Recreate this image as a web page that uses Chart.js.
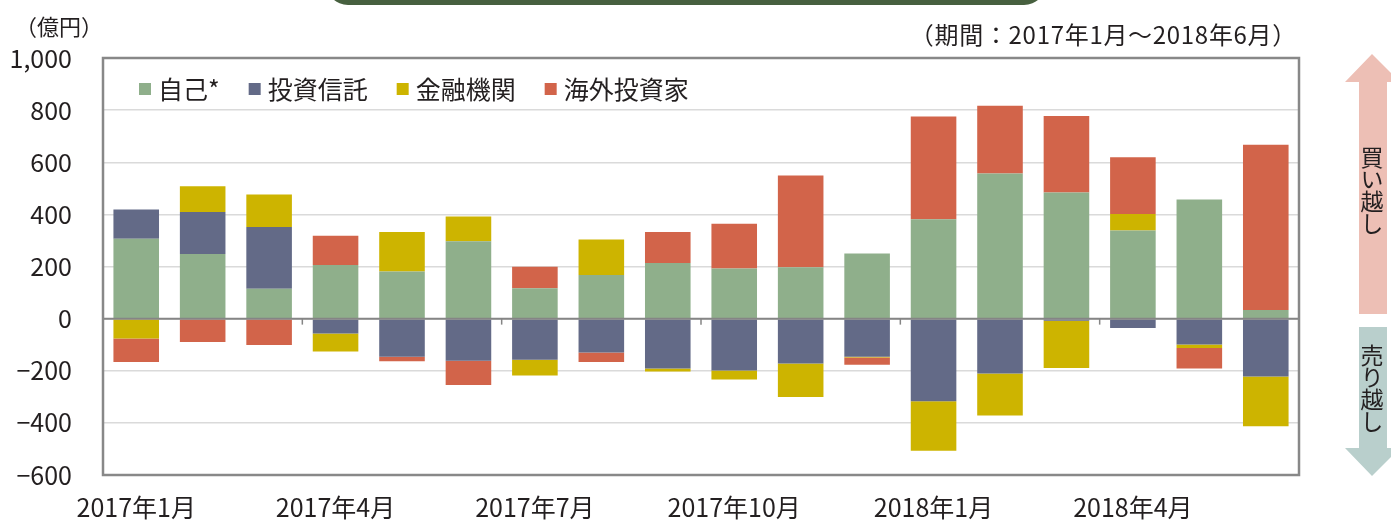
<!DOCTYPE html>
<html><head><meta charset="utf-8">
<script src="https://cdn.jsdelivr.net/npm/chart.js@4/dist/chart.umd.min.js"></script>
<style>
html,body{margin:0;padding:0;background:#fff;}
#wrap{position:relative;width:1391px;height:521px;overflow:hidden;font-family:"Noto Sans CJK JP","Noto Sans",sans-serif;color:#231f20;}
#c{position:absolute;left:0;top:0;}
.banner{position:absolute;left:326px;top:-20px;width:720px;height:25px;background:#47603f;border-radius:0 0 22px 22px;}
.unit{position:absolute;left:15px;top:14px;font-size:22px;line-height:1;}
.period{position:absolute;right:94px;top:22px;font-size:24px;line-height:1;letter-spacing:0.7px;}
.vt{position:absolute;writing-mode:vertical-rl;font-size:23px;line-height:1;left:1360px;letter-spacing:-1px;}
svg{position:absolute;left:0;top:0;}
</style></head>
<body><div id="wrap">
<canvas id="c" width="1391" height="521"></canvas>
<div class="banner"></div>
<div class="unit">（億円）</div>
<div class="period">（期間：2017年1月～2018年6月）</div>
<svg width="1391" height="521">
<polygon points="1372,54 1400,82 1387,82 1387,314 1359,314 1359,82 1345,82" fill="#edbfb5"/>
<polygon points="1359,327 1387,327 1387,448 1400,448 1372,476 1345,448 1359,448" fill="#b9cfcc"/>
</svg>
<div class="vt" style="top:146px;">買い越し</div>
<div class="vt" style="top:344px;">売り越し</div>
</div>
<script>
const categories = ["2017年1月","2017年2月","2017年3月","2017年4月","2017年5月","2017年6月","2017年7月","2017年8月","2017年9月","2017年10月","2017年11月","2017年12月","2018年1月","2018年2月","2018年3月","2018年4月","2018年5月","2018年6月"];
const seriesNames = ["自己*","投資信託","金融機関","海外投資家"];
const jiko      = [306, 248, 115, 206, 181, 297, 117, 167, 213, 192, 197, 250, 381, 557, 484, 338, 457, 33];
const toushin   = [113, 161, 237, -57, -146, -162, -158, -130, -191, -199, -172, -146, -317, -211, -8, -36, -99, -222];
const kinyu     = [-76, 99, 124, -69, 151, 95, -60, 137, -12, -35, -129, -3, -190, -161, -181, 63, -14, -191];
const kaigai    = [-90, -90, -101, 112, -18, -93, 82, -36, 119, 172, 352, -28, 395, 260, 293, 218, -78, 634];
const yTicks    = [-600, -400, -200, 0, 200, 400, 600, 800, 1000];
const colors = ["#8faf8b","#636a87","#cdb400","#d2644a"];
const FONT = '"Noto Sans CJK JP","Noto Sans",sans-serif';

const frame = {
  id:'frame',
  afterDatasetsDraw(chart){
    const {ctx, chartArea:a, scales:{x,y}} = chart;
    ctx.save();
    const y0 = y.getPixelForValue(0);
    ctx.strokeStyle = '#858585';
    ctx.lineWidth = 2;
    ctx.beginPath(); ctx.moveTo(a.left, y0); ctx.lineTo(a.right, y0); ctx.stroke();
    ctx.lineWidth = 1.5;
    for (let i = 3; i <= categories.length; i += 3) {
      const px = i < categories.length ? (x.getPixelForValue(i-1) + x.getPixelForValue(i)) / 2 : a.right;
      ctx.beginPath(); ctx.moveTo(px, y0); ctx.lineTo(px, y0 + 6); ctx.stroke();
    }
    ctx.strokeStyle = '#888888';
    ctx.lineWidth = 2.5;
    ctx.strokeRect(a.left, a.top, a.right - a.left, a.bottom - a.top);
    ctx.font = '25px ' + FONT;
    ctx.textBaseline = 'middle';
    let lx = a.left + 36;
    const ly = a.top + 31;
    chart.data.datasets.forEach(ds => {
      ctx.fillStyle = ds.backgroundColor;
      ctx.fillRect(lx, ly - 6, 12, 12);
      ctx.fillStyle = '#231f20';
      ctx.textAlign = 'left';
      ctx.fillText(ds.label, lx + 19, ly);
      lx += 19 + ctx.measureText(ds.label).width + 29;
    });
    ctx.restore();
  }
};

const seriesData = [jiko, toushin, kinyu, kaigai];
new Chart(document.getElementById('c'), {
  type: 'bar',
  data: {
    labels: categories,
    datasets: seriesNames.map((n, i) => ({
      label: n, data: seriesData[i], backgroundColor: colors[i],
      borderWidth: 0, barPercentage: 0.686, categoryPercentage: 1
    }))
  },
  options: {
    responsive: false, animation: false,
    layout: { padding: { left: 0, right: 92, top: 58, bottom: 0 } },
    plugins: { legend: { display: false }, tooltip: { enabled: false } },
    scales: {
      x: {
        stacked: true, offset: true,
        grid: { display: false, drawTicks: false },
        border: { display: false },
        afterFit(s){ s.height = 46; },
        ticks: {
          autoSkip: false, maxRotation: 0, padding: 17, color: '#231f20',
          font: { family: FONT, size: 25 },
          callback(v, i){ return i % 3 === 0 ? categories[i] : ''; }
        }
      },
      y: {
        stacked: true, min: -600, max: 1000,
        afterBuildTicks(s){ s.ticks = yTicks.map(v => ({ value: v })); },
        afterFit(s){ s.width = 103; },
        grid: { color: '#dadada', lineWidth: 1.5, drawTicks: false },
        border: { display: false },
        ticks: {
          padding: 31, color: '#231f20',
          font: { family: FONT, size: 25 },
          callback(v){ return v.toLocaleString('en-US').replace('-', '\u2212'); }
        }
      }
    }
  },
  plugins: [frame]
});
</script>
</body></html>
